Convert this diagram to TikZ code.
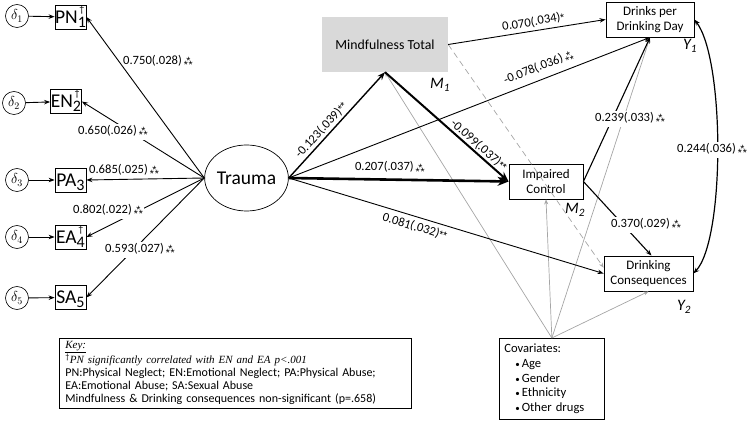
\documentclass[tikz,border=0pt]{standalone}
\usepackage{fontspec}
\setmainfont{Carlito}
\newfontfamily\tnr{Liberation Serif}
\newfontfamily\astf{Liberation Sans}
\usepackage{graphicx}
\usetikzlibrary{arrows.meta,shapes.geometric,calc}
\definecolor{mindgray}{RGB}{217,217,217}
\definecolor{covgray}{RGB}{165,165,165}
\newcommand\tstar{\hspace{2pt}{\astf\fontsize{10.5}{10.5}\selectfont\rlap{\hspace{2.6pt}\raisebox{-0.2pt}{*}}\raisebox{-4.4pt}{*\kern0.8pt*}}}
\newcommand\dstar{{\astf\fontsize{10.5}{10.5}\selectfont *\kern-0.3pt*}}
\newcommand\sstar{{\astf\fontsize{10.5}{10.5}\selectfont *}}
\newcommand\isub[1]{\smash{\raisebox{-4pt}{\fontsize{16}{16}\selectfont #1}}}
\newcommand\indic[3]{#1\isub{#2}\llap{\smash{\raisebox{11pt}{\fontsize{10}{10}\selectfont #3}}\hspace{1.5pt}}}
\begin{document}
\begin{tikzpicture}[x=1pt,y=-1pt,
 lbl/.style={font=\fontsize{12.6}{12.6}\selectfont, inner sep=1pt},
 box/.style={draw, line width=0.8pt, inner sep=0pt, align=center, font=\fontsize{13}{15}\selectfont},
 ind/.style={draw, line width=0.8pt, minimum width=31pt, minimum height=24pt, inner sep=0pt, font=\fontsize{19.5}{19.5}\selectfont},
 err/.style={draw, circle, line width=0.6pt, minimum size=23pt, inner sep=0pt, font=\fontsize{14}{14}\selectfont},
 arr/.style={line width=0.9pt, -{Stealth[length=6pt,width=4.5pt]}},
 covl/.style={draw=covgray, line width=0.7pt, -{Stealth[length=5pt,width=4pt]}},
 mlab/.style={font=\fontsize{16}{16}\selectfont\itshape, inner sep=0pt},
]
\useasboundingbox (0,0) rectangle (750,422);

% error terms and indicators
\node[err] (d1) at (17,16) {$\delta_1$};
\node[err] (d2) at (14,103) {$\delta_2$};
\node[err] (d3) at (17,180) {$\delta_3$};
\node[err] (d4) at (17,237) {$\delta_4$};
\node[err] (d5) at (17,298) {$\delta_5$};
\node[ind] (pn) at (70.5,17) {\indic{PN}{1}{\textdagger}};
\node[ind] (en) at (66,101.5) {\indic{EN}{2}{\textdagger}};
\node[ind] (pa) at (70.5,180) {PA\isub{3}};
\node[ind] (ea) at (70.5,237) {\indic{EA}{4}{\textdagger}};
\node[ind] (sa) at (70.5,297.5) {SA\isub{5}};

\node[draw, ellipse, line width=0.7pt, minimum width=77pt, minimum height=66pt, inner sep=0pt, font=\fontsize{19.5}{19.5}\selectfont] (tr) at (246.5,178) {Trauma};

\node[fill=mindgray, minimum width=126pt, minimum height=55pt, inner sep=0pt, font=\fontsize{13.8}{13.8}\selectfont] (mind) at (385,44.5) {Mindfulness Total};
\node[box, minimum width=88pt, minimum height=35pt] (drk) at (650,19.5) {Drinks per\\Drinking Day};
\node[box, minimum width=74pt, minimum height=35pt] (imp) at (546,181.5) {Impaired\\Control};
\node[box, minimum width=89pt, minimum height=35pt] (cons) at (648.5,273.5) {Drinking\\Consequences};

\node[mlab] (m1) at (440,85) {M\textsubscript{1}};
\node[mlab] (y1) at (690,46) {Y\textsubscript{1}};
\node[mlab] (m2) at (575,210) {M\textsubscript{2}};
\node[mlab] (y2) at (684,307) {Y\textsubscript{2}};

\node[draw, line width=0.7pt, anchor=north west, text width=95pt, inner xsep=5pt, inner ysep=2pt, minimum height=81pt, align=left, font=\fontsize{12.6}{14.7}\selectfont] (cov) at (499,338) {Covariates:\\\hspace*{11pt}{\fontsize{9}{9}\selectfont\textbullet}\hspace{2pt}Age\\\hspace*{11pt}{\fontsize{9}{9}\selectfont\textbullet}\hspace{2pt}Gender\\\hspace*{11pt}{\fontsize{9}{9}\selectfont\textbullet}\hspace{2pt}Ethnicity\\\hspace*{11pt}{\fontsize{9}{9}\selectfont\textbullet}\hspace{2pt}Other drugs};

\node[draw, line width=0.7pt, anchor=north west, text width=340pt, inner xsep=6pt, inner ysep=3pt, align=left, font=\fontsize{12}{13}\selectfont] (key) at (59,338) {{\tnr\fontsize{11}{13}\selectfont\itshape\underline{Key:}}\\\textsuperscript{\textdagger}{\tnr\fontsize{11}{13}\selectfont\itshape PN significantly correlated with EN and EA p<.001}\\PN:Physical Neglect; EN:Emotional Neglect; PA:Physical Abuse;\\EA:Emotional Abuse; SA:Sexual Abuse\\Mindfulness \& Drinking consequences non-significant (p=.658)};

% measurement arrows
\foreach \d/\b in {d1/pn,d2/en,d3/pa,d4/ea,d5/sa}{\draw[arr] (\d) -- (\b);}
\foreach \b in {pn,en,pa,ea,sa}{\draw[arr] (tr.west) -- (\b.east);}

% covariate lines
\draw[covl] (cov.north) -- (mind.south);
\draw[covl] (cov.north) -- (imp.south);
\draw[covl] (cov.north) -- (drk.south);
\draw[covl] (cov.north) -- (cons.south);
\draw[covl, dash pattern=on 6pt off 4pt] (mind.east) -- ($(cons.north west)+(0,12)$);

% structural paths
\draw[line width=1.4pt, -{Stealth[length=8pt,width=6pt]}] (tr.east) -- (mind.south) node[lbl, pos=0.4, sloped, above=1pt] {-0.123(.039)\dstar};
\draw[line width=2pt, -{Stealth[length=10pt,width=8pt]}] (mind.south) -- (imp.west) node[lbl, pos=0.72, sloped, above=0pt] {-0.099(.037)\dstar};
\draw[line width=2.6pt, -{Stealth[length=11pt,width=9pt]}] (tr.east) -- (imp.west) node[lbl, pos=0.46, above=2pt] {0.207(.037)\tstar};
\draw[arr] (tr.east) -- (drk.south) node[lbl, pos=0.704, sloped, above=3pt] {-0.078(.036)\tstar};
\draw[arr] (tr.east) -- (cons.west) node[lbl, pos=0.41, sloped, below=3pt] {0.081(.032)\dstar};
\draw[arr] (mind.east) -- (drk.west) node[lbl, pos=0.55, sloped, above=2pt] {0.070(.034)\sstar};
\draw[arr, line width=1.1pt] (imp.east) -- (drk.south);
\draw[arr, line width=1.1pt] (imp.east) -- ($(cons.north)+(3,0)$);
\draw[line width=1.2pt, {Stealth[length=6pt,width=4.5pt]}-{Stealth[length=6pt,width=4.5pt]}] (drk.east) .. controls (725,60) and (725,240) .. (cons.east);

% measurement labels
\node[lbl] at (158,62) {0.750(.028)\tstar};
\node[lbl, fill=white] at (113,132) {0.650(.026)\tstar};
\node[lbl] at (124,171) {0.685(.025)\tstar};
\node[lbl, fill=white] at (108,211) {0.802(.022)\tstar};
\node[lbl, fill=white] at (140,250) {0.593(.027)\tstar};
\node[lbl, fill=white] at (630,119) {0.239(.033)\tstar};
\node[lbl, fill=white] at (646,225) {0.370(.029)\tstar};
\node[lbl, fill=white] at (712,150) {0.244(.036)\tstar};
\end{tikzpicture}
\end{document}
